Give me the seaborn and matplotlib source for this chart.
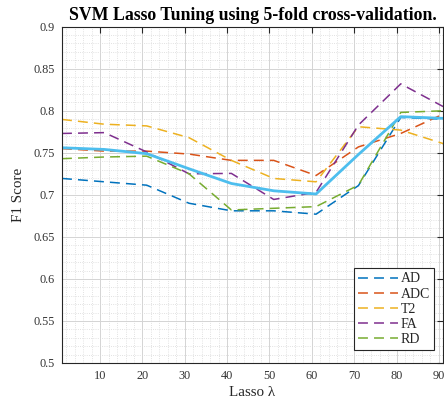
import matplotlib
matplotlib.use("Agg")
import matplotlib.pyplot as plt
import seaborn as sns
import pandas as pd
from matplotlib.ticker import MultipleLocator, FixedLocator, FixedFormatter

# ---- data ----
lam = [1, 11, 21, 31, 41, 51, 61, 71, 81, 91]
AD = [0.7195, 0.7155, 0.7115, 0.690, 0.681, 0.681, 0.677, 0.711, 0.792, 0.790]
ADC = [0.755, 0.752, 0.752, 0.7485, 0.741, 0.741, 0.723, 0.757, 0.773, 0.796]
T2 = [0.7897, 0.784, 0.782, 0.768, 0.741, 0.7195, 0.7155, 0.781, 0.777, 0.761]
FA = [0.773, 0.774, 0.751, 0.725, 0.7255, 0.6945, 0.703, 0.783, 0.832, 0.805]
RD = [0.743, 0.745, 0.746, 0.725, 0.682, 0.684, 0.686, 0.7115, 0.798, 0.800]
MEAN = [0.756, 0.754, 0.749, 0.731, 0.7135, 0.7048, 0.701, 0.748, 0.793, 0.791]

series_names = ["AD", "ADC", "T2", "FA", "RD"]
series_vals = [AD, ADC, T2, FA, RD]
series_colors = ["#0072BD", "#D95319", "#EDB120", "#7E2F8E", "#77AC30"]
mean_color = "#4DBEEE"

xticks = [10, 20, 30, 40, 50, 60, 70, 80, 90]
xtick_labels = ["10", "20", "30", "40", "50", "60", "70", "80", "90"]
yticks = [0.5, 0.55, 0.6, 0.65, 0.7, 0.75, 0.8, 0.85, 0.9]
ytick_labels = ["0.5", "0.55", "0.6", "0.65", "0.7", "0.75", "0.8", "0.85", "0.9"]

title = "SVM Lasso Tuning using 5-fold cross-validation."
xlabel = "Lasso λ"
ylabel = "F1 Score"

# ---- style ----
sns.set_style("white")
plt.rcParams["font.family"] = ["Liberation Serif", "DejaVu Serif"]

fig = plt.figure(figsize=(4.44, 4.08), dpi=100)
ax = fig.add_axes([0.1396, 0.1103, 0.8584, 0.8243])

for name, vals, col in zip(series_names, series_vals, series_colors):
    df = pd.DataFrame({"lam": lam, "F1": vals})
    sns.lineplot(data=df, x="lam", y="F1", ax=ax, color=col, linewidth=1.1,
                 label=name)
    ax.lines[-1].set_dashes((6.5, 4.0))

dfm = pd.DataFrame({"lam": lam, "F1": MEAN})
sns.lineplot(data=dfm, x="lam", y="F1", ax=ax, color=mean_color, linewidth=2.0,
             label="_nolegend_")

ax.set_xlim(1, 91)
ax.set_ylim(0.5, 0.9)
ax.xaxis.set_major_locator(FixedLocator(xticks))
ax.xaxis.set_major_formatter(FixedFormatter(xtick_labels))
ax.yaxis.set_major_locator(FixedLocator(yticks))
ax.yaxis.set_major_formatter(FixedFormatter(ytick_labels))
ax.xaxis.set_minor_locator(MultipleLocator(2))
ax.yaxis.set_minor_locator(MultipleLocator(0.01))

ax.grid(which="major", color="#d4d4d4", linewidth=0.7, linestyle="-")
ax.grid(which="minor", color="#d8d8d8", linewidth=0.6, linestyle=":")
ax.set_axisbelow(True)

ax.tick_params(which="major", direction="in", length=4, width=0.8,
               top=True, right=True, colors="#262626", labelsize=8.8,
               labelcolor="#333333", pad=5)
ax.tick_params(which="minor", length=0, top=True, right=True)

for sp in ax.spines.values():
    sp.set_visible(True)
    sp.set_color("#262626")
    sp.set_linewidth(0.8)

ax.set_title(title, fontsize=12.8, fontweight="bold", pad=5, color="black")
ax.set_xlabel(xlabel, fontsize=10.8, color="#262626", labelpad=3)
ax.set_ylabel(ylabel, fontsize=10.8, color="#262626", labelpad=6)

leg = ax.legend(loc="lower right", bbox_to_anchor=(0.976, 0.0387),
                fontsize=10, frameon=True, fancybox=False, framealpha=1,
                edgecolor="#262626", handlelength=2.9, handletextpad=0.15,
                labelspacing=0.15, borderpad=0.3, borderaxespad=0)
leg.get_frame().set_linewidth(0.8)
for h in leg.get_lines():
    h.set_dashes((6.5, 4.0))

fig.savefig("out.png", dpi=100)
